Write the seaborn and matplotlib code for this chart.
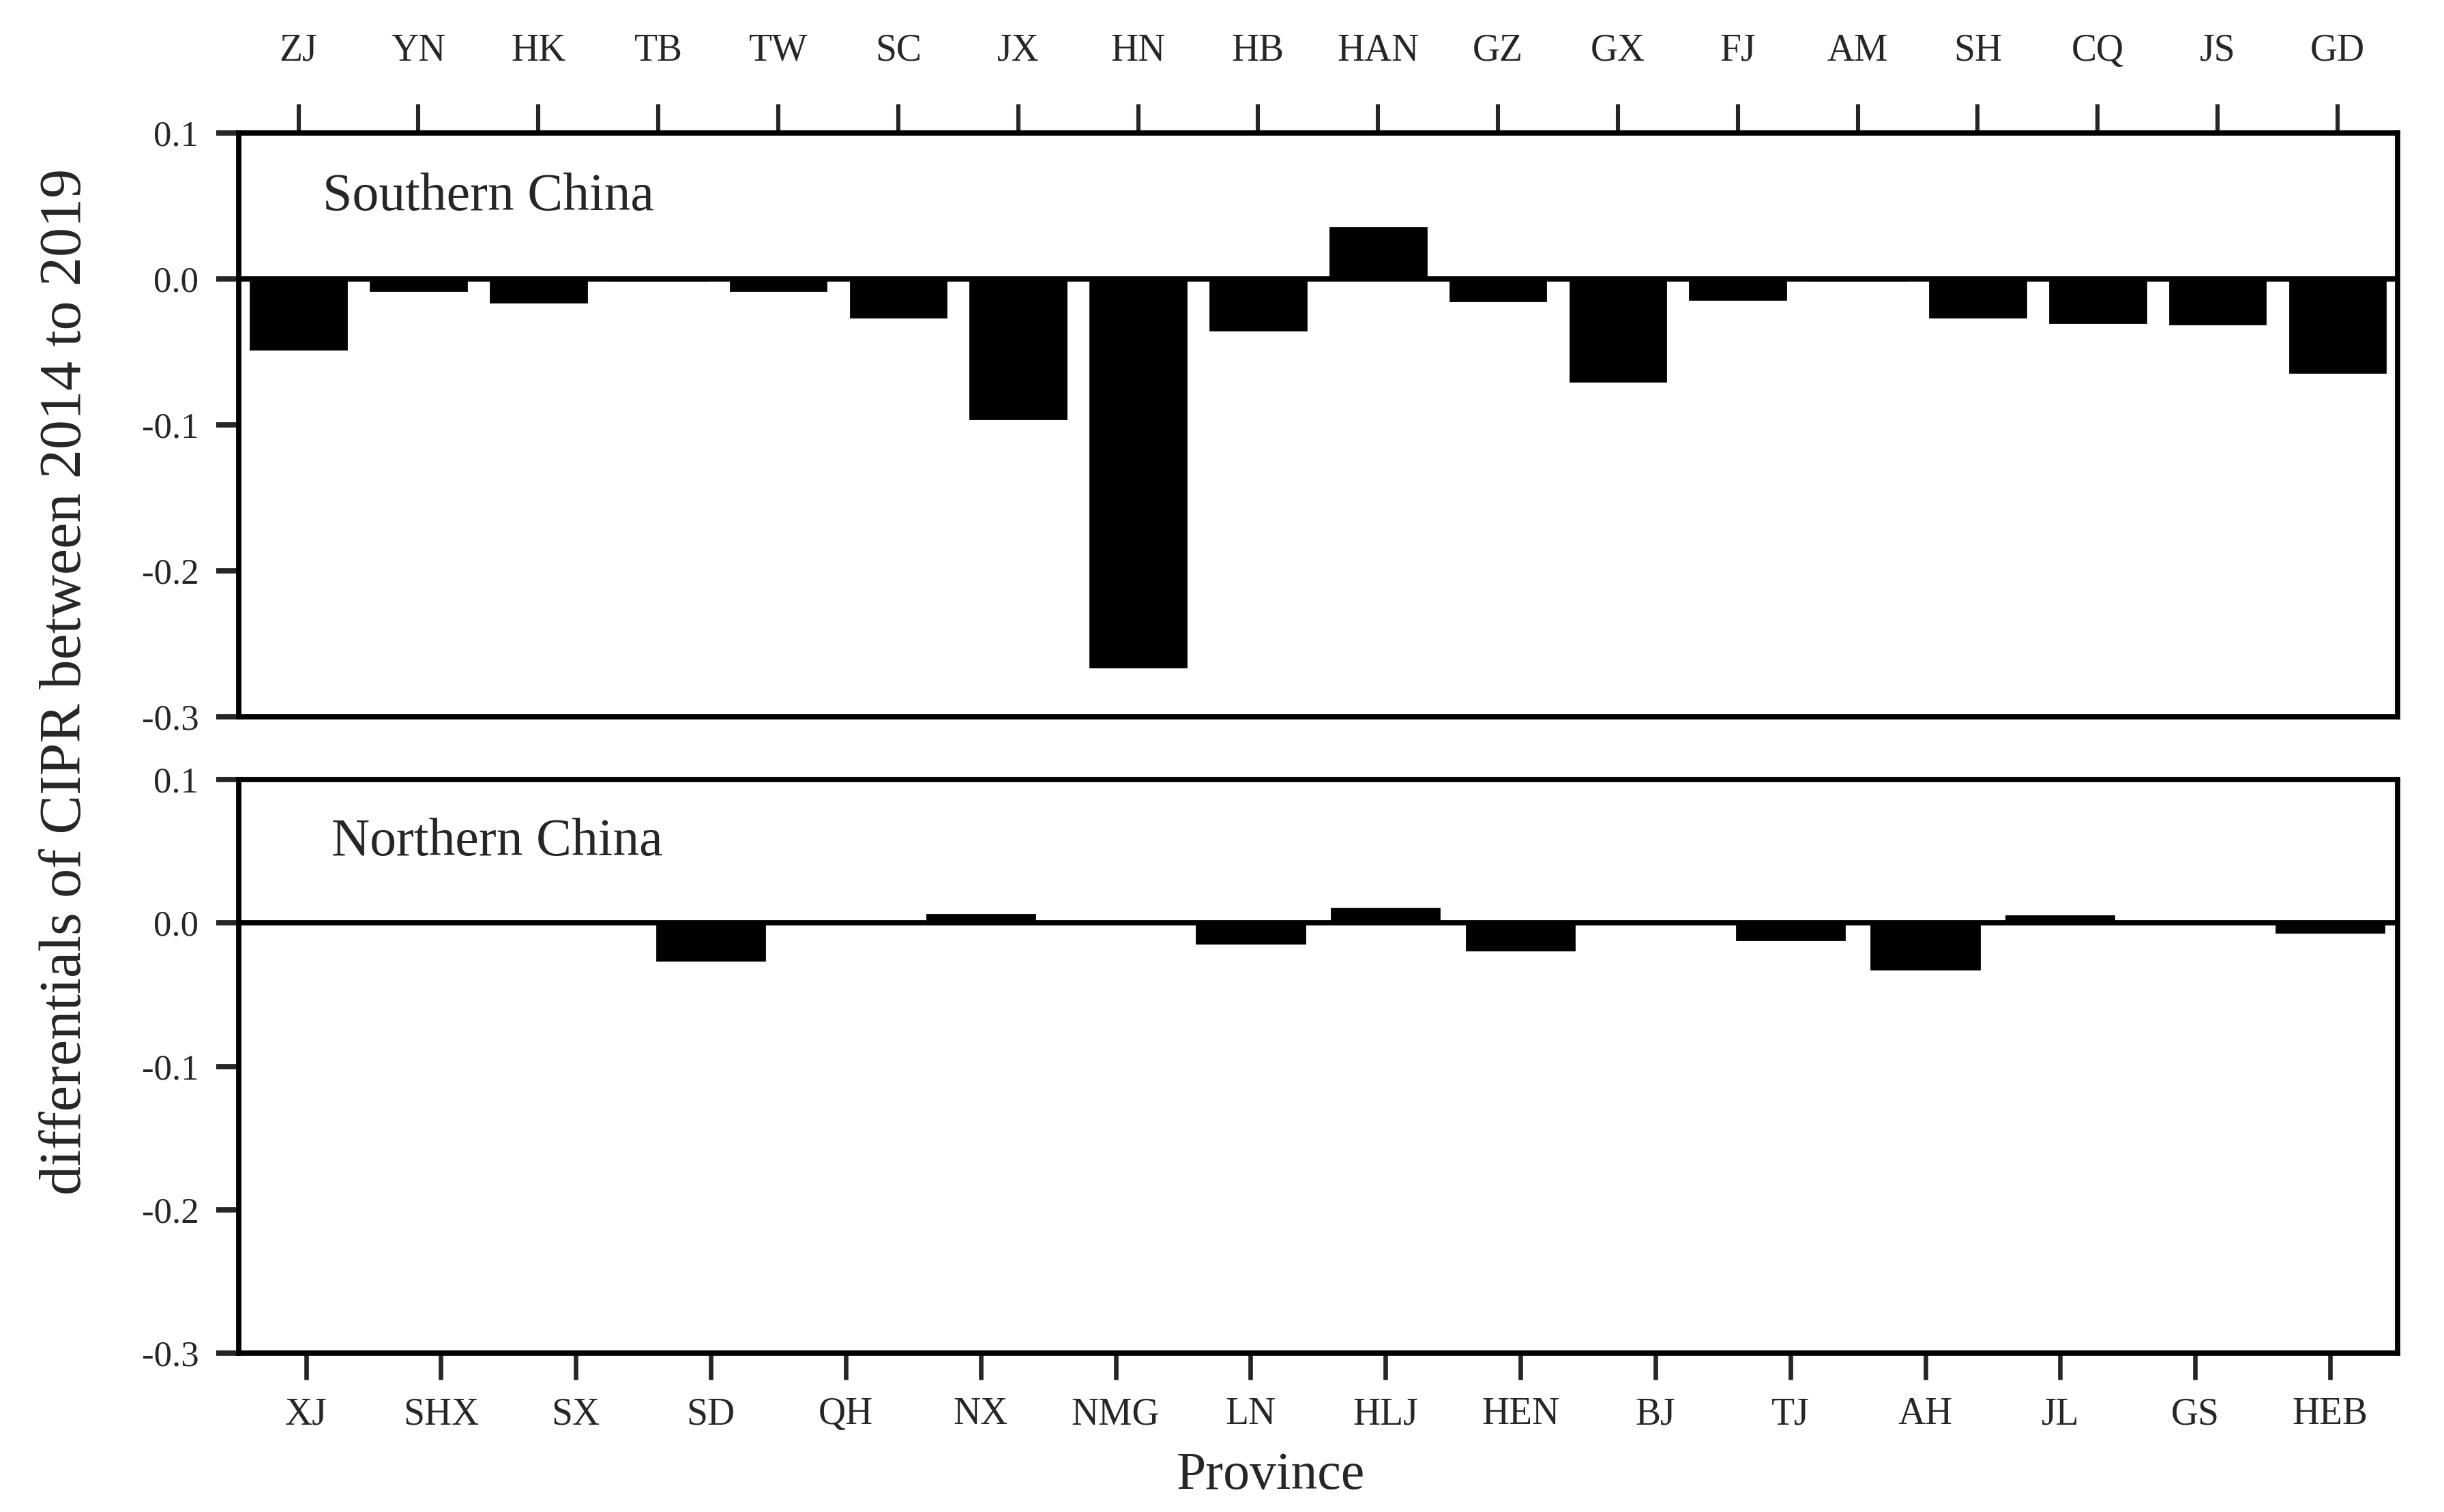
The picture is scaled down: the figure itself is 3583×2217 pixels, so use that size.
import pandas as pd
import matplotlib.pyplot as plt
import seaborn as sns

# southern provinces (top panel)
south_prov = ['ZJ', 'YN', 'HK', 'TB', 'TW', 'SC', 'JX', 'HN', 'HB', 'HAN',
              'GZ', 'GX', 'FJ', 'AM', 'SH', 'CQ', 'JS', 'GD']
south_vals = [-0.048, -0.008, -0.016, -0.001, -0.008, -0.026, -0.096, -0.266, -0.035, 0.035,
              -0.015, -0.070, -0.014, -0.001, -0.026, -0.030, -0.031, -0.064]

# northern provinces (bottom panel)
north_prov = ['XJ', 'SHX', 'SX', 'SD', 'QH', 'NX', 'NMG', 'LN', 'HLJ', 'HEN',
              'BJ', 'TJ', 'AH', 'JL', 'GS', 'HEB']
north_vals = [0.0, 0.0, 0.0, -0.026, 0.0, 0.006, 0.0, -0.014, 0.010, -0.019,
              0.0, -0.012, -0.032, 0.005, 0.0, -0.0065]

y_ticks = [-0.3, -0.2, -0.1, 0.0, 0.1]

sns.set_style('ticks')
plt.rcParams['font.family'] = ['Liberation Serif', 'DejaVu Serif']

south = pd.DataFrame({'prov': south_prov, 'val': south_vals})
north = pd.DataFrame({'prov': north_prov, 'val': north_vals})

fig = plt.figure(figsize=(17.915, 11.085), dpi=200)
ax1 = fig.add_axes([0.0976, 0.526, 0.8834, 0.386])
ax2 = fig.add_axes([0.0976, 0.105, 0.8834, 0.3795])


def style_panel(ax, data, label, lx, top):
    sns.barplot(data=data, x='prov', y='val', color='black', saturation=1,
                width=0.8, errorbar=None, edgecolor='black', ax=ax)
    ax.axhline(0, color='black', lw=2.8, zorder=5)
    ax.set_ylim(-0.3, 0.1)
    ax.set_yticks(y_ticks)
    ax.set_yticklabels(['%.1f' % v for v in y_ticks], fontsize=19)
    ax.set_xlabel('')
    ax.set_ylabel('')
    for s in ax.spines.values():
        s.set_visible(True)
        s.set_linewidth(2.8)
        s.set_color('black')
    ax.tick_params(axis='y', direction='out', length=12, width=2.8, pad=9)
    if top:
        ax.xaxis.tick_top()
        ax.tick_params(axis='x', top=True, bottom=False, labeltop=True, labelbottom=False,
                       direction='out', length=15, width=2.2, labelsize=20, pad=19)
    else:
        ax.tick_params(axis='x', top=False, bottom=True, direction='out',
                       length=14, width=2.4, labelsize=20, pad=9)
    ax.text(lx, 0.89, label, transform=ax.transAxes, fontsize=28,
            ha='left', va='center')


style_panel(ax1, south, 'Southern China', 0.039, top=True)
style_panel(ax2, north, 'Northern China', 0.043, top=False)

fig.text(0.027, 0.549, 'differentials of CIPR between 2014 to 2019', rotation=90,
         ha='center', va='center', fontsize=31)
fig.text(0.52, 0.024, 'Province', ha='center', va='center', fontsize=28)

fig.savefig('out.png', dpi=200, facecolor='white')
